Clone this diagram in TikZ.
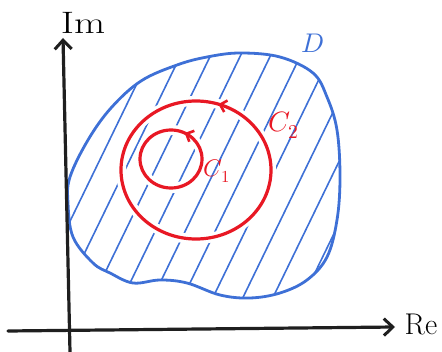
\documentclass[tikz,border=0pt]{standalone}
\usepackage{fontspec}
\usepackage{unicode-math}
\usetikzlibrary{arrows.meta,decorations.markings}
\definecolor{penblue}{RGB}{62,112,214}
\definecolor{penred}{RGB}{232,24,36}
\begin{document}
\begin{tikzpicture}[x=1pt,y=-1pt,
  axis/.style={line width=3.2pt, black!88, line cap=round},
  axisarrow/.style={-{Straight Barb[length=9pt,width=17pt,line width=3pt]}},
  region/.style={penblue, line width=2.8pt},
  hatch/.style={penblue, line width=1.6pt, line cap=round},
  contour/.style={penred, line width=3.2pt},
  gap/.style={white, line width=10pt},
  flow/.style={postaction={decorate},decoration={markings,
     mark=at position #1 with {\arrow{Straight Barb[length=6pt,width=12pt,line width=2.6pt]}}}},
  lab/.style={inner sep=0pt}
]
\useasboundingbox (0,0) rectangle (442,352);

% region D
\def\blob{plot[smooth cycle, tension=0.6] coordinates {
 (207,57) (240,53) (280,57) (313,73) (327,97) (337,130) (340,177) (337,220)
 (327,257) (307,280) (280,293) (250,298) (220,295) (187,283) (160,280)
 (133,283) (110,273) (93,263) (73,237) (68,203) (70,177) (88,140)
 (111,108) (141,81) (177,65)}}
\begin{scope}
  \clip \blob;
  \foreach \k in {-6,...,7} {
    \draw[hatch] ({202+30*\k},320) -- ({202+30*\k+140},32);
  }
\end{scope}
\draw[region] \blob;

% gaps in hatching around the contours
\draw[gap] (196,170) ellipse[x radius=75, y radius=69];
\draw[gap] (171,159) ellipse[x radius=31, y radius=29];

% contours (counter-clockwise on the page)
\draw[contour, flow=0.20] (271,170) arc[start angle=0, end angle=-360, x radius=75, y radius=69];
\draw[contour, flow=0.175] (202,159) arc[start angle=0, end angle=-360, x radius=31, y radius=29];

% axes
\coordinate (ybot) at (70,352);
\coordinate (ytop) at (63,38);
\coordinate (xleft) at (8,331);
\coordinate (xright) at (395,327);
\draw[axis, axisarrow] (ybot) -- (ytop);
\draw[axis, axisarrow] (xleft) -- (xright);

% labels
\node[lab, font=\fontsize{31}{33}\selectfont, xscale=1.3] (im) at (83,23) {Im};
\node[lab, font=\fontsize{30}{32}\selectfont] (re) at (421,324) {Re};
\node[lab, text=penblue, font=\fontsize{27}{29}\selectfont] (d) at (313,43) {$D$};
\node[lab, text=penred, font=\fontsize{28}{30}\selectfont] (c2) at (284,125) {$C_2$};
\node[lab, text=penred, font=\fontsize{24}{26}\selectfont] (c1) at (217,171) {$C_1$};
\end{tikzpicture}
\end{document}
